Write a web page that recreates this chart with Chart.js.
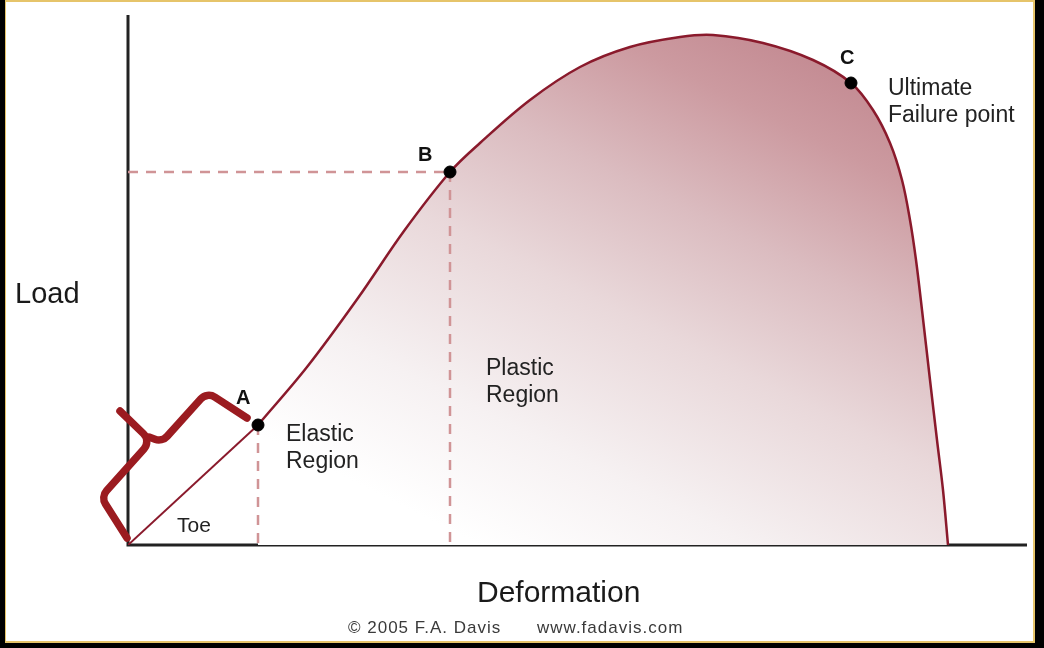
<!DOCTYPE html>
<html lang="en">
<head>
<meta charset="UTF-8">
<title>Load - Deformation</title>
<script src="https://cdn.jsdelivr.net/npm/chart.js"></script>
<style>
  html, body { margin: 0; padding: 0; background: #000; }
  canvas { display: block; }
</style>
</head>
<body>
<canvas id="grafico" width="1044" height="648"></canvas>
<script>
// toe (straight part) and the rest of the curve
const toeX = [0, 130];
const toeY = [0, 120];
const curveX = [130, 179, 230, 276, 322, 352, 402, 452, 502, 552, 585, 635, 685, 723, 745, 762, 774, 782, 788, 794, 802, 809, 815, 820];
const curveY = [120, 178, 247, 314, 373, 402, 445, 478, 498, 508, 510, 502, 485, 462, 435, 402, 365, 325, 285, 235, 165, 105, 55, 0];

// points A, B, C
const markNames = ['A', 'B', 'C'];
const markX = [130, 322, 723];
const markY = [120, 373, 462];

// brace over the toe, in data units (corners get rounded)
const braceLeft = [[-1, 7], [-27, 48], [23, 104], [-8, 134]];
const braceRight = [[21, 108], [34, 103], [79, 153], [119, 127]];

const FONT = '"Liberation Sans", Arial, Helvetica, sans-serif';
const lineColor = '#8a1a2c';
const dashColor = '#d09496';

const pts = (xs, ys) => xs.map((x, i) => ({ x: x, y: ys[i] }));

const guides = [
    [{ x: 0, y: markY[1] }, { x: markX[1], y: markY[1] }],
    [{ x: markX[1], y: markY[1] }, { x: markX[1], y: 0 }],
    [{ x: markX[0], y: markY[0] }, { x: markX[0], y: 0 }]
];

const decor = {
    id: 'decor',
    beforeDraw(chart) {
        const c = chart.ctx;
        c.save();
        c.fillStyle = '#000';
        c.fillRect(0, 0, chart.width, chart.height);
        c.fillStyle = '#e6c46a';
        c.fillRect(5, 0, 1030, 643);
        c.fillStyle = '#fff';
        c.fillRect(6, 2, 1027, 639);
        c.restore();
    },
    beforeDatasetsDraw(chart) {
        const c = chart.ctx;
        const a = chart.chartArea;
        c.save();
        c.strokeStyle = '#222';
        c.lineWidth = 3;
        c.beginPath();
        c.moveTo(a.left, a.top);
        c.lineTo(a.left, a.bottom);
        c.lineTo(a.right, a.bottom);
        c.stroke();
        c.restore();
    },
    afterDatasetsDraw(chart) {
        const c = chart.ctx;
        const sx = chart.scales.x, sy = chart.scales.y;
        c.save();

        // brace
        c.strokeStyle = '#9b1b20';
        c.lineWidth = 7.5;
        c.lineCap = 'round';
        c.lineJoin = 'round';
        [braceLeft, braceRight].forEach(path => {
            const p = path.map(q => [sx.getPixelForValue(q[0]), sy.getPixelForValue(q[1])]);
            c.beginPath();
            c.moveTo(p[0][0], p[0][1]);
            for (let i = 1; i < p.length - 1; i++) {
                c.arcTo(p[i][0], p[i][1], p[i + 1][0], p[i + 1][1], 11);
            }
            c.lineTo(p[p.length - 1][0], p[p.length - 1][1]);
            c.stroke();
        });

        // point letters
        c.fillStyle = '#111';
        c.font = 'bold 20px ' + FONT;
        c.textBaseline = 'alphabetic';
        const off = [[-22, -21], [-32, -11], [-11, -19]];
        markNames.forEach((n, i) => {
            c.fillText(n, sx.getPixelForValue(markX[i]) + off[i][0], sy.getPixelForValue(markY[i]) + off[i][1]);
        });

        // region labels
        c.fillStyle = '#222';
        c.font = '23px ' + FONT;
        c.fillText('Ultimate', 888, 95);
        c.fillText('Failure point', 888, 122);
        c.fillText('Plastic', 486, 375);
        c.fillText('Region', 486, 402);
        c.fillText('Elastic', 286, 441);
        c.fillText('Region', 286, 468);
        c.font = '21px ' + FONT;
        c.fillText('Toe', 177, 532);

        // axis titles
        c.fillStyle = '#1a1a1a';
        c.font = '29px ' + FONT;
        c.fillText('Load', 15, 303);
        c.font = '30px ' + FONT;
        c.fillText('Deformation', 477, 602);

        // credit
        c.fillStyle = '#3a3a3a';
        c.font = '17px ' + FONT;
        c.letterSpacing = '1px';
        c.fillText('\u00a9 2005 F.A. Davis', 348, 633);
        c.fillText('www.fadavis.com', 537, 633);
        c.restore();
    }
};

function fillGradient(context) {
    const chart = context.chart;
    const a = chart.chartArea;
    if (!a) return 'rgba(0,0,0,0)';
    const sx = chart.scales.x, sy = chart.scales.y;
    const g = chart.ctx.createLinearGradient(
        sx.getPixelForValue(422), sy.getPixelForValue(-35),
        sx.getPixelForValue(692), sy.getPixelForValue(505));
    g.addColorStop(0, '#ffffff');
    g.addColorStop(0.2, '#f6f1f2');
    g.addColorStop(0.45, '#e9d8da');
    g.addColorStop(0.65, '#dbbcc0');
    g.addColorStop(0.85, '#cc9aa0');
    g.addColorStop(1, '#c28890');
    return g;
}

const datasets = [
    {
        data: pts(markX, markY),
        showLine: false,
        pointRadius: 6,
        pointBackgroundColor: '#000',
        pointBorderColor: '#000',
        order: 0
    },
    {
        data: pts(curveX, curveY),
        borderColor: lineColor,
        borderWidth: 2.5,
        tension: 0.35,
        pointRadius: 0,
        fill: 'origin',
        backgroundColor: fillGradient,
        order: 2
    },
    {
        data: pts(toeX, toeY),
        borderColor: lineColor,
        borderWidth: 2,
        tension: 0,
        pointRadius: 0,
        fill: false,
        order: 2
    }
];
guides.forEach(g => datasets.push({
    data: g,
    borderColor: dashColor,
    borderWidth: 2.5,
    borderDash: [10, 8],
    pointRadius: 0,
    fill: false,
    order: 1
}));

new Chart(document.getElementById('grafico'), {
    type: 'line',
    data: { datasets: datasets },
    options: {
        responsive: false,
        animation: false,
        devicePixelRatio: 1,
        layout: { padding: { left: 128, top: 15, right: 17, bottom: 103 } },
        scales: {
            x: { type: 'linear', min: 0, max: 899, display: false },
            y: { type: 'linear', min: 0, max: 530, display: false }
        },
        plugins: {
            legend: { display: false },
            tooltip: { enabled: false }
        }
    },
    plugins: [decor]
});
</script>
</body>
</html>
